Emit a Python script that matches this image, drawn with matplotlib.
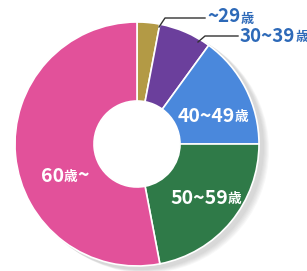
import matplotlib
matplotlib.use('Agg')
import matplotlib.pyplot as plt
from matplotlib.patches import Circle
from matplotlib.offsetbox import TextArea, HPacker, AnnotationBbox

plt.rcParams['font.family'] = ['Noto Sans CJK JP', 'DejaVu Sans']

# age groups, clockwise from top
labels = ['~29歳', '30~39歳', '40~49歳', '50~59歳', '60歳~']
shares = [3, 7, 15, 22, 53]
colors = ['#b39a45', '#6b3f9c', '#4a88dc', '#2f7a48', '#e2519a']

fig = plt.figure(figsize=(3.07, 2.71), dpi=100)
ax = fig.add_axes([0, 0, 1, 1])

cx, cy, r = 137, 127, 122

# soft shadow on the right / bottom
for k in range(6):
    ax.add_patch(Circle((cx + 4 + k, cy - 3 - k * 0.6), r + 1, color='#888888',
                        alpha=0.06, lw=0, zorder=0))
ax.add_patch(Circle((cx, cy), 43, color='white', lw=0, zorder=0.5))

wedges, _ = ax.pie(shares, colors=colors, startangle=90, counterclock=False,
                   center=(cx, cy), radius=r, frame=True,
                   wedgeprops=dict(width=79, edgecolor='white', linewidth=1.2))
ax.set_xlim(0, 307)
ax.set_ylim(0, 271)
ax.set_aspect('equal')
ax.axis('off')


def age_label(s, x, y, color, size, box_align=(0.5, 0.5)):
    # the 歳 sign is set smaller than the digits
    a, b = s.split('歳')
    parts = [TextArea(a, textprops=dict(color=color, fontsize=size, fontweight='bold')),
             TextArea('歳', textprops=dict(color=color, fontsize=size * 0.7, fontweight='bold'))]
    if b:
        parts.append(TextArea(b, textprops=dict(color=color, fontsize=size, fontweight='bold')))
    box = HPacker(children=parts, align='baseline', pad=0, sep=0)
    ab = AnnotationBbox(box, (x, y), frameon=False, box_alignment=box_align, pad=0)
    ax.add_artist(ab)


age_label(labels[2], 213, 271 - 116, 'white', 14)
age_label(labels[3], 206, 271 - 198, 'white', 14)
age_label(labels[4], 65, 271 - 176, 'white', 14)

# labels outside with leader lines
blue = '#2d69b8'
ax.plot([159, 165, 205], [271 - 27, 271 - 18, 271 - 18], color='#333333', lw=1)
age_label(labels[0], 207, 271 - 17, blue, 13.5, (0, 0.5))
ax.plot([198, 205, 238], [271 - 42, 271 - 36, 271 - 36], color='#333333', lw=1)
age_label(labels[1], 240, 271 - 36, blue, 13.5, (0, 0.5))

fig.savefig('out.png', dpi=100)
